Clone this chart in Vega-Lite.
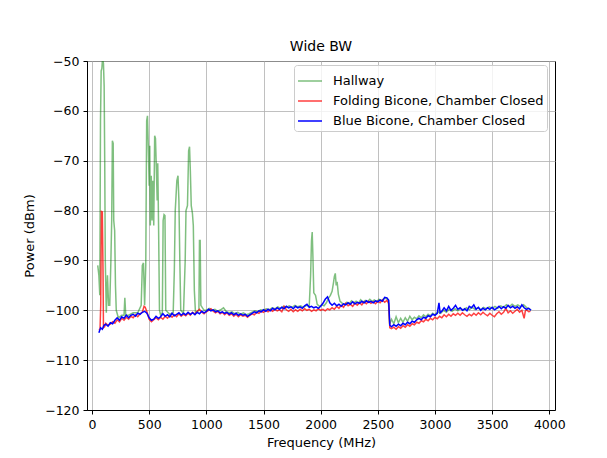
{
  "$schema": "https://vega.github.io/schema/vega-lite/v6.json",
  "width": 468,
  "height": 349,
  "autosize": {"type": "none"},
  "padding": {"left": 87, "top": 61, "right": 52, "bottom": 48},
  "background": "white",
  "title": {"text": "Wide BW", "fontSize": 14, "font": "DejaVu Sans", "fontWeight": "normal", "color": "black", "offset": 1, "anchor": "middle"},
  "data": {"values": [
    {"series":"Hallway","freq":50,"dbm":-91},{"series":"Hallway","freq":60,"dbm":-93},{"series":"Hallway","freq":68,"dbm":-97},{"series":"Hallway","freq":74,"dbm":-62},{"series":"Hallway","freq":80,"dbm":-52},{"series":"Hallway","freq":86,"dbm":-51.5},{"series":"Hallway","freq":92,"dbm":-49.5},{"series":"Hallway","freq":100,"dbm":-50.5},{"series":"Hallway","freq":106,"dbm":-55},{"series":"Hallway","freq":111,"dbm":-70},{"series":"Hallway","freq":116,"dbm":-90},{"series":"Hallway","freq":125,"dbm":-100.5},{"series":"Hallway","freq":135,"dbm":-93},{"series":"Hallway","freq":145,"dbm":-99},{"series":"Hallway","freq":155,"dbm":-99},{"series":"Hallway","freq":165,"dbm":-90},{"series":"Hallway","freq":172,"dbm":-82},{"series":"Hallway","freq":178,"dbm":-66},{"series":"Hallway","freq":185,"dbm":-66.5},{"series":"Hallway","freq":190,"dbm":-82},{"series":"Hallway","freq":198,"dbm":-84},{"series":"Hallway","freq":205,"dbm":-95},{"series":"Hallway","freq":212,"dbm":-100},{"series":"Hallway","freq":230,"dbm":-101.5},{"series":"Hallway","freq":260,"dbm":-101},{"series":"Hallway","freq":280,"dbm":-101},{"series":"Hallway","freq":287,"dbm":-97.5},{"series":"Hallway","freq":295,"dbm":-101},{"series":"Hallway","freq":320,"dbm":-101},{"series":"Hallway","freq":360,"dbm":-100.5},{"series":"Hallway","freq":400,"dbm":-100.5},{"series":"Hallway","freq":430,"dbm":-99},{"series":"Hallway","freq":440,"dbm":-91},{"series":"Hallway","freq":450,"dbm":-90.5},{"series":"Hallway","freq":460,"dbm":-99},{"series":"Hallway","freq":470,"dbm":-91},{"series":"Hallway","freq":478,"dbm":-62},{"series":"Hallway","freq":485,"dbm":-61},{"series":"Hallway","freq":492,"dbm":-67},{"series":"Hallway","freq":500,"dbm":-75},{"series":"Hallway","freq":505,"dbm":-67},{"series":"Hallway","freq":510,"dbm":-83},{"series":"Hallway","freq":518,"dbm":-73},{"series":"Hallway","freq":525,"dbm":-82},{"series":"Hallway","freq":532,"dbm":-74},{"series":"Hallway","freq":540,"dbm":-83},{"series":"Hallway","freq":548,"dbm":-65},{"series":"Hallway","freq":555,"dbm":-65.5},{"series":"Hallway","freq":562,"dbm":-71},{"series":"Hallway","freq":570,"dbm":-78},{"series":"Hallway","freq":575,"dbm":-70.5},{"series":"Hallway","freq":582,"dbm":-83},{"series":"Hallway","freq":590,"dbm":-100},{"series":"Hallway","freq":600,"dbm":-101},{"series":"Hallway","freq":615,"dbm":-100.5},{"series":"Hallway","freq":622,"dbm":-82},{"series":"Hallway","freq":630,"dbm":-80.8},{"series":"Hallway","freq":638,"dbm":-81},{"series":"Hallway","freq":645,"dbm":-100},{"series":"Hallway","freq":680,"dbm":-100.8},{"series":"Hallway","freq":710,"dbm":-100.5},{"series":"Hallway","freq":720,"dbm":-92},{"series":"Hallway","freq":728,"dbm":-80},{"series":"Hallway","freq":735,"dbm":-77},{"series":"Hallway","freq":742,"dbm":-74},{"series":"Hallway","freq":752,"dbm":-73},{"series":"Hallway","freq":760,"dbm":-78},{"series":"Hallway","freq":768,"dbm":-90},{"series":"Hallway","freq":776,"dbm":-100},{"series":"Hallway","freq":800,"dbm":-100.6},{"series":"Hallway","freq":815,"dbm":-90},{"series":"Hallway","freq":822,"dbm":-80},{"series":"Hallway","freq":835,"dbm":-79},{"series":"Hallway","freq":845,"dbm":-68},{"series":"Hallway","freq":853,"dbm":-67.2},{"series":"Hallway","freq":860,"dbm":-72},{"series":"Hallway","freq":868,"dbm":-79},{"series":"Hallway","freq":878,"dbm":-80.5},{"series":"Hallway","freq":886,"dbm":-83},{"series":"Hallway","freq":895,"dbm":-96},{"series":"Hallway","freq":905,"dbm":-100.5},{"series":"Hallway","freq":935,"dbm":-100},{"series":"Hallway","freq":940,"dbm":-86},{"series":"Hallway","freq":946,"dbm":-86},{"series":"Hallway","freq":952,"dbm":-99},{"series":"Hallway","freq":980,"dbm":-100},
    {"series":"Hallway","freq":1000,"dbm":-100},{"series":"Hallway","freq":1025,"dbm":-99.6},{"series":"Hallway","freq":1050,"dbm":-100},{"series":"Hallway","freq":1075,"dbm":-99.8},{"series":"Hallway","freq":1100,"dbm":-100.2},{"series":"Hallway","freq":1125,"dbm":-99.9},{"series":"Hallway","freq":1150,"dbm":-99.5},{"series":"Hallway","freq":1175,"dbm":-100.3},{"series":"Hallway","freq":1200,"dbm":-100.5},{"series":"Hallway","freq":1225,"dbm":-100.3},{"series":"Hallway","freq":1250,"dbm":-100.7},{"series":"Hallway","freq":1275,"dbm":-100.4},{"series":"Hallway","freq":1300,"dbm":-100.8},{"series":"Hallway","freq":1325,"dbm":-100.5},{"series":"Hallway","freq":1350,"dbm":-100.9},{"series":"Hallway","freq":1375,"dbm":-100.7},{"series":"Hallway","freq":1400,"dbm":-100.4},{"series":"Hallway","freq":1425,"dbm":-100.1},{"series":"Hallway","freq":1450,"dbm":-100.3},{"series":"Hallway","freq":1475,"dbm":-99.9},{"series":"Hallway","freq":1500,"dbm":-100},{"series":"Hallway","freq":1525,"dbm":-99.7},{"series":"Hallway","freq":1550,"dbm":-99.9},{"series":"Hallway","freq":1575,"dbm":-99.5},{"series":"Hallway","freq":1600,"dbm":-99.7},{"series":"Hallway","freq":1625,"dbm":-99.3},{"series":"Hallway","freq":1650,"dbm":-99.6},{"series":"Hallway","freq":1675,"dbm":-99.2},{"series":"Hallway","freq":1700,"dbm":-99.4},{"series":"Hallway","freq":1725,"dbm":-99.1},{"series":"Hallway","freq":1750,"dbm":-99.4},{"series":"Hallway","freq":1775,"dbm":-99},{"series":"Hallway","freq":1800,"dbm":-99.3},{"series":"Hallway","freq":1825,"dbm":-99.1},{"series":"Hallway","freq":1850,"dbm":-99.4},{"series":"Hallway","freq":1875,"dbm":-99},{"series":"Hallway","freq":1900,"dbm":-99.2},{"series":"Hallway","freq":1912,"dbm":-93},{"series":"Hallway","freq":1920,"dbm":-86},{"series":"Hallway","freq":1926,"dbm":-84.3},{"series":"Hallway","freq":1932,"dbm":-89},{"series":"Hallway","freq":1940,"dbm":-96.5},{"series":"Hallway","freq":1955,"dbm":-97},{"series":"Hallway","freq":1970,"dbm":-98.8},{"series":"Hallway","freq":1990,"dbm":-99.2},{"series":"Hallway","freq":2010,"dbm":-98.9},{"series":"Hallway","freq":2030,"dbm":-99.1},{"series":"Hallway","freq":2050,"dbm":-98.5},{"series":"Hallway","freq":2070,"dbm":-97.5},{"series":"Hallway","freq":2085,"dbm":-97},{"series":"Hallway","freq":2100,"dbm":-96.2},{"series":"Hallway","freq":2112,"dbm":-94.5},{"series":"Hallway","freq":2120,"dbm":-93.2},{"series":"Hallway","freq":2128,"dbm":-92.6},{"series":"Hallway","freq":2136,"dbm":-95},{"series":"Hallway","freq":2144,"dbm":-94.3},{"series":"Hallway","freq":2155,"dbm":-96.8},{"series":"Hallway","freq":2170,"dbm":-98.2},{"series":"Hallway","freq":2190,"dbm":-98.6},{"series":"Hallway","freq":2210,"dbm":-98.9},{"series":"Hallway","freq":2230,"dbm":-98.4},{"series":"Hallway","freq":2250,"dbm":-98.7},{"series":"Hallway","freq":2270,"dbm":-98.1},{"series":"Hallway","freq":2290,"dbm":-98.5},{"series":"Hallway","freq":2310,"dbm":-98.2},{"series":"Hallway","freq":2330,"dbm":-98.6},{"series":"Hallway","freq":2350,"dbm":-97.9},{"series":"Hallway","freq":2370,"dbm":-98.4},{"series":"Hallway","freq":2390,"dbm":-98},{"series":"Hallway","freq":2410,"dbm":-98.3},{"series":"Hallway","freq":2430,"dbm":-97.8},{"series":"Hallway","freq":2450,"dbm":-98.2},{"series":"Hallway","freq":2470,"dbm":-97.9},{"series":"Hallway","freq":2490,"dbm":-98.3},{"series":"Hallway","freq":2510,"dbm":-97.8},{"series":"Hallway","freq":2530,"dbm":-98.1},{"series":"Hallway","freq":2550,"dbm":-97.7},{"series":"Hallway","freq":2570,"dbm":-97.6},{"series":"Hallway","freq":2592,"dbm":-97.9},{"series":"Hallway","freq":2603,"dbm":-102.8},{"series":"Hallway","freq":2620,"dbm":-101.8},{"series":"Hallway","freq":2640,"dbm":-102.7},{"series":"Hallway","freq":2660,"dbm":-101.3},{"series":"Hallway","freq":2680,"dbm":-102.5},{"series":"Hallway","freq":2700,"dbm":-101.6},{"series":"Hallway","freq":2720,"dbm":-102.4},{"series":"Hallway","freq":2740,"dbm":-101.5},{"series":"Hallway","freq":2760,"dbm":-102.2},{"series":"Hallway","freq":2780,"dbm":-101.2},{"series":"Hallway","freq":2800,"dbm":-101.9},{"series":"Hallway","freq":2820,"dbm":-101.4},{"series":"Hallway","freq":2840,"dbm":-101.7},{"series":"Hallway","freq":2860,"dbm":-101.1},{"series":"Hallway","freq":2880,"dbm":-101.5},{"series":"Hallway","freq":2900,"dbm":-100.9},{"series":"Hallway","freq":2920,"dbm":-101.3},{"series":"Hallway","freq":2940,"dbm":-100.8},{"series":"Hallway","freq":2960,"dbm":-101.1},{"series":"Hallway","freq":2980,"dbm":-100.6},{"series":"Hallway","freq":3000,"dbm":-100.9},{"series":"Hallway","freq":3025,"dbm":-100.3},{"series":"Hallway","freq":3050,"dbm":-100.6},{"series":"Hallway","freq":3075,"dbm":-100},{"series":"Hallway","freq":3100,"dbm":-100.4},{"series":"Hallway","freq":3125,"dbm":-99.8},{"series":"Hallway","freq":3150,"dbm":-100.2},{"series":"Hallway","freq":3175,"dbm":-99.7},{"series":"Hallway","freq":3200,"dbm":-100.1},{"series":"Hallway","freq":3225,"dbm":-99.6},{"series":"Hallway","freq":3250,"dbm":-100},{"series":"Hallway","freq":3275,"dbm":-99.5},{"series":"Hallway","freq":3300,"dbm":-99.9},{"series":"Hallway","freq":3325,"dbm":-99.4},{"series":"Hallway","freq":3350,"dbm":-99.8},{"series":"Hallway","freq":3375,"dbm":-99.5},{"series":"Hallway","freq":3400,"dbm":-99.9},{"series":"Hallway","freq":3425,"dbm":-99.4},{"series":"Hallway","freq":3450,"dbm":-99.7},{"series":"Hallway","freq":3475,"dbm":-99.3},{"series":"Hallway","freq":3500,"dbm":-99.6},{"series":"Hallway","freq":3525,"dbm":-99.2},{"series":"Hallway","freq":3550,"dbm":-99.6},{"series":"Hallway","freq":3575,"dbm":-99.1},{"series":"Hallway","freq":3600,"dbm":-99.4},{"series":"Hallway","freq":3625,"dbm":-98.9},{"series":"Hallway","freq":3650,"dbm":-99.3},{"series":"Hallway","freq":3675,"dbm":-98.8},{"series":"Hallway","freq":3700,"dbm":-99.2},{"series":"Hallway","freq":3725,"dbm":-98.9},{"series":"Hallway","freq":3750,"dbm":-99.3},{"series":"Hallway","freq":3775,"dbm":-98.9},{"series":"Hallway","freq":3800,"dbm":-99.4},{"series":"Hallway","freq":3825,"dbm":-99.7},{"series":"Hallway","freq":3840,"dbm":-100},
    {"series":"Folding Bicone, Chamber Closed","freq":60,"dbm":-104},{"series":"Folding Bicone, Chamber Closed","freq":70,"dbm":-103.8},{"series":"Folding Bicone, Chamber Closed","freq":76,"dbm":-99},{"series":"Folding Bicone, Chamber Closed","freq":82,"dbm":-80.2},{"series":"Folding Bicone, Chamber Closed","freq":90,"dbm":-80.3},{"series":"Folding Bicone, Chamber Closed","freq":96,"dbm":-92},{"series":"Folding Bicone, Chamber Closed","freq":100,"dbm":-103.5},{"series":"Folding Bicone, Chamber Closed","freq":110,"dbm":-103.3},{"series":"Folding Bicone, Chamber Closed","freq":120,"dbm":-102.6},{"series":"Folding Bicone, Chamber Closed","freq":140,"dbm":-103},{"series":"Folding Bicone, Chamber Closed","freq":160,"dbm":-102.8},{"series":"Folding Bicone, Chamber Closed","freq":180,"dbm":-102.3},{"series":"Folding Bicone, Chamber Closed","freq":200,"dbm":-102.6},{"series":"Folding Bicone, Chamber Closed","freq":220,"dbm":-101.9},{"series":"Folding Bicone, Chamber Closed","freq":240,"dbm":-102.3},{"series":"Folding Bicone, Chamber Closed","freq":260,"dbm":-101.6},{"series":"Folding Bicone, Chamber Closed","freq":280,"dbm":-102},{"series":"Folding Bicone, Chamber Closed","freq":300,"dbm":-101.4},{"series":"Folding Bicone, Chamber Closed","freq":320,"dbm":-101.8},{"series":"Folding Bicone, Chamber Closed","freq":340,"dbm":-101.2},{"series":"Folding Bicone, Chamber Closed","freq":360,"dbm":-101.5},{"series":"Folding Bicone, Chamber Closed","freq":380,"dbm":-100.9},{"series":"Folding Bicone, Chamber Closed","freq":400,"dbm":-101.3},{"series":"Folding Bicone, Chamber Closed","freq":420,"dbm":-100.7},{"series":"Folding Bicone, Chamber Closed","freq":440,"dbm":-100.4},{"series":"Folding Bicone, Chamber Closed","freq":455,"dbm":-99.2},{"series":"Folding Bicone, Chamber Closed","freq":465,"dbm":-99.4},{"series":"Folding Bicone, Chamber Closed","freq":480,"dbm":-100.3},{"series":"Folding Bicone, Chamber Closed","freq":500,"dbm":-101.8},{"series":"Folding Bicone, Chamber Closed","freq":520,"dbm":-102.3},{"series":"Folding Bicone, Chamber Closed","freq":540,"dbm":-101.9},{"series":"Folding Bicone, Chamber Closed","freq":560,"dbm":-101.5},{"series":"Folding Bicone, Chamber Closed","freq":580,"dbm":-101.9},{"series":"Folding Bicone, Chamber Closed","freq":600,"dbm":-101.4},{"series":"Folding Bicone, Chamber Closed","freq":620,"dbm":-101.8},{"series":"Folding Bicone, Chamber Closed","freq":640,"dbm":-101.2},{"series":"Folding Bicone, Chamber Closed","freq":660,"dbm":-101.6},{"series":"Folding Bicone, Chamber Closed","freq":680,"dbm":-101},{"series":"Folding Bicone, Chamber Closed","freq":700,"dbm":-101.4},{"series":"Folding Bicone, Chamber Closed","freq":720,"dbm":-100.9},{"series":"Folding Bicone, Chamber Closed","freq":740,"dbm":-101.3},{"series":"Folding Bicone, Chamber Closed","freq":760,"dbm":-100.7},{"series":"Folding Bicone, Chamber Closed","freq":780,"dbm":-101.2},{"series":"Folding Bicone, Chamber Closed","freq":800,"dbm":-100.8},{"series":"Folding Bicone, Chamber Closed","freq":820,"dbm":-101.1},{"series":"Folding Bicone, Chamber Closed","freq":840,"dbm":-100.6},{"series":"Folding Bicone, Chamber Closed","freq":860,"dbm":-101},{"series":"Folding Bicone, Chamber Closed","freq":880,"dbm":-100.4},{"series":"Folding Bicone, Chamber Closed","freq":900,"dbm":-100.8},{"series":"Folding Bicone, Chamber Closed","freq":920,"dbm":-100.2},{"series":"Folding Bicone, Chamber Closed","freq":940,"dbm":-99.8},{"series":"Folding Bicone, Chamber Closed","freq":960,"dbm":-100.4},{"series":"Folding Bicone, Chamber Closed","freq":980,"dbm":-100.7},{"series":"Folding Bicone, Chamber Closed","freq":1000,"dbm":-100.3},{"series":"Folding Bicone, Chamber Closed","freq":1020,"dbm":-100},{"series":"Folding Bicone, Chamber Closed","freq":1040,"dbm":-99.7},{"series":"Folding Bicone, Chamber Closed","freq":1060,"dbm":-100.2},{"series":"Folding Bicone, Chamber Closed","freq":1080,"dbm":-100.5},{"series":"Folding Bicone, Chamber Closed","freq":1100,"dbm":-100.2},{"series":"Folding Bicone, Chamber Closed","freq":1120,"dbm":-100.7},{"series":"Folding Bicone, Chamber Closed","freq":1140,"dbm":-100.4},{"series":"Folding Bicone, Chamber Closed","freq":1160,"dbm":-100.9},{"series":"Folding Bicone, Chamber Closed","freq":1180,"dbm":-100.5},{"series":"Folding Bicone, Chamber Closed","freq":1200,"dbm":-101},{"series":"Folding Bicone, Chamber Closed","freq":1220,"dbm":-100.7},{"series":"Folding Bicone, Chamber Closed","freq":1240,"dbm":-101.2},{"series":"Folding Bicone, Chamber Closed","freq":1260,"dbm":-100.8},{"series":"Folding Bicone, Chamber Closed","freq":1280,"dbm":-101.3},{"series":"Folding Bicone, Chamber Closed","freq":1300,"dbm":-100.9},{"series":"Folding Bicone, Chamber Closed","freq":1320,"dbm":-101.2},{"series":"Folding Bicone, Chamber Closed","freq":1340,"dbm":-101},{"series":"Folding Bicone, Chamber Closed","freq":1360,"dbm":-101.4},{"series":"Folding Bicone, Chamber Closed","freq":1380,"dbm":-101},{"series":"Folding Bicone, Chamber Closed","freq":1400,"dbm":-100.7},{"series":"Folding Bicone, Chamber Closed","freq":1420,"dbm":-100.9},{"series":"Folding Bicone, Chamber Closed","freq":1440,"dbm":-100.4},{"series":"Folding Bicone, Chamber Closed","freq":1460,"dbm":-100.6},{"series":"Folding Bicone, Chamber Closed","freq":1480,"dbm":-100.2},{"series":"Folding Bicone, Chamber Closed","freq":1500,"dbm":-100.4},{"series":"Folding Bicone, Chamber Closed","freq":1520,"dbm":-100},{"series":"Folding Bicone, Chamber Closed","freq":1540,"dbm":-100.3},{"series":"Folding Bicone, Chamber Closed","freq":1560,"dbm":-99.9},{"series":"Folding Bicone, Chamber Closed","freq":1580,"dbm":-100.2},{"series":"Folding Bicone, Chamber Closed","freq":1600,"dbm":-99.8},{"series":"Folding Bicone, Chamber Closed","freq":1620,"dbm":-100.1},{"series":"Folding Bicone, Chamber Closed","freq":1640,"dbm":-99.9},{"series":"Folding Bicone, Chamber Closed","freq":1660,"dbm":-100.3},{"series":"Folding Bicone, Chamber Closed","freq":1680,"dbm":-99.2},{"series":"Folding Bicone, Chamber Closed","freq":1700,"dbm":-99.9},{"series":"Folding Bicone, Chamber Closed","freq":1720,"dbm":-100.2},{"series":"Folding Bicone, Chamber Closed","freq":1740,"dbm":-99.8},{"series":"Folding Bicone, Chamber Closed","freq":1760,"dbm":-100.3},{"series":"Folding Bicone, Chamber Closed","freq":1780,"dbm":-99.9},{"series":"Folding Bicone, Chamber Closed","freq":1800,"dbm":-100.2},{"series":"Folding Bicone, Chamber Closed","freq":1820,"dbm":-99.8},{"series":"Folding Bicone, Chamber Closed","freq":1840,"dbm":-100.1},{"series":"Folding Bicone, Chamber Closed","freq":1860,"dbm":-99.7},{"series":"Folding Bicone, Chamber Closed","freq":1880,"dbm":-100},{"series":"Folding Bicone, Chamber Closed","freq":1900,"dbm":-99.8},{"series":"Folding Bicone, Chamber Closed","freq":1920,"dbm":-100.2},{"series":"Folding Bicone, Chamber Closed","freq":1940,"dbm":-99.9},{"series":"Folding Bicone, Chamber Closed","freq":1960,"dbm":-100.1},{"series":"Folding Bicone, Chamber Closed","freq":1980,"dbm":-99.7},{"series":"Folding Bicone, Chamber Closed","freq":2000,"dbm":-100},{"series":"Folding Bicone, Chamber Closed","freq":2020,"dbm":-99.8},{"series":"Folding Bicone, Chamber Closed","freq":2040,"dbm":-100.1},{"series":"Folding Bicone, Chamber Closed","freq":2060,"dbm":-99.7},{"series":"Folding Bicone, Chamber Closed","freq":2080,"dbm":-99.9},{"series":"Folding Bicone, Chamber Closed","freq":2100,"dbm":-99.5},{"series":"Folding Bicone, Chamber Closed","freq":2120,"dbm":-99.8},{"series":"Folding Bicone, Chamber Closed","freq":2140,"dbm":-99.2},{"series":"Folding Bicone, Chamber Closed","freq":2160,"dbm":-99.6},{"series":"Folding Bicone, Chamber Closed","freq":2180,"dbm":-99},{"series":"Folding Bicone, Chamber Closed","freq":2200,"dbm":-99.4},{"series":"Folding Bicone, Chamber Closed","freq":2220,"dbm":-98.6},{"series":"Folding Bicone, Chamber Closed","freq":2240,"dbm":-99.1},{"series":"Folding Bicone, Chamber Closed","freq":2260,"dbm":-98.8},{"series":"Folding Bicone, Chamber Closed","freq":2280,"dbm":-99.2},{"series":"Folding Bicone, Chamber Closed","freq":2300,"dbm":-98.6},{"series":"Folding Bicone, Chamber Closed","freq":2320,"dbm":-99},{"series":"Folding Bicone, Chamber Closed","freq":2340,"dbm":-98.5},{"series":"Folding Bicone, Chamber Closed","freq":2360,"dbm":-98.9},{"series":"Folding Bicone, Chamber Closed","freq":2380,"dbm":-98.3},{"series":"Folding Bicone, Chamber Closed","freq":2400,"dbm":-98.7},{"series":"Folding Bicone, Chamber Closed","freq":2420,"dbm":-98.2},{"series":"Folding Bicone, Chamber Closed","freq":2440,"dbm":-98.6},{"series":"Folding Bicone, Chamber Closed","freq":2460,"dbm":-98.3},{"series":"Folding Bicone, Chamber Closed","freq":2480,"dbm":-98.7},{"series":"Folding Bicone, Chamber Closed","freq":2500,"dbm":-98.2},{"series":"Folding Bicone, Chamber Closed","freq":2520,"dbm":-98.5},{"series":"Folding Bicone, Chamber Closed","freq":2540,"dbm":-97.9},{"series":"Folding Bicone, Chamber Closed","freq":2560,"dbm":-98.4},{"series":"Folding Bicone, Chamber Closed","freq":2580,"dbm":-98},{"series":"Folding Bicone, Chamber Closed","freq":2595,"dbm":-98.6},{"series":"Folding Bicone, Chamber Closed","freq":2605,"dbm":-103.5},{"series":"Folding Bicone, Chamber Closed","freq":2620,"dbm":-103.7},{"series":"Folding Bicone, Chamber Closed","freq":2640,"dbm":-103.4},{"series":"Folding Bicone, Chamber Closed","freq":2660,"dbm":-103.8},{"series":"Folding Bicone, Chamber Closed","freq":2680,"dbm":-103.3},{"series":"Folding Bicone, Chamber Closed","freq":2700,"dbm":-103.6},{"series":"Folding Bicone, Chamber Closed","freq":2720,"dbm":-103.1},{"series":"Folding Bicone, Chamber Closed","freq":2740,"dbm":-103.4},{"series":"Folding Bicone, Chamber Closed","freq":2760,"dbm":-102.9},{"series":"Folding Bicone, Chamber Closed","freq":2780,"dbm":-103.2},{"series":"Folding Bicone, Chamber Closed","freq":2800,"dbm":-102.7},{"series":"Folding Bicone, Chamber Closed","freq":2820,"dbm":-102.9},{"series":"Folding Bicone, Chamber Closed","freq":2840,"dbm":-102.4},{"series":"Folding Bicone, Chamber Closed","freq":2860,"dbm":-102.6},{"series":"Folding Bicone, Chamber Closed","freq":2880,"dbm":-102.1},{"series":"Folding Bicone, Chamber Closed","freq":2900,"dbm":-102.3},{"series":"Folding Bicone, Chamber Closed","freq":2920,"dbm":-101.8},{"series":"Folding Bicone, Chamber Closed","freq":2940,"dbm":-102.1},{"series":"Folding Bicone, Chamber Closed","freq":2960,"dbm":-101.6},{"series":"Folding Bicone, Chamber Closed","freq":2980,"dbm":-101.9},{"series":"Folding Bicone, Chamber Closed","freq":3000,"dbm":-101.4},{"series":"Folding Bicone, Chamber Closed","freq":3020,"dbm":-101.7},{"series":"Folding Bicone, Chamber Closed","freq":3040,"dbm":-101.2},{"series":"Folding Bicone, Chamber Closed","freq":3060,"dbm":-101.5},{"series":"Folding Bicone, Chamber Closed","freq":3080,"dbm":-100.9},{"series":"Folding Bicone, Chamber Closed","freq":3100,"dbm":-101.3},{"series":"Folding Bicone, Chamber Closed","freq":3120,"dbm":-100.8},{"series":"Folding Bicone, Chamber Closed","freq":3140,"dbm":-101.2},{"series":"Folding Bicone, Chamber Closed","freq":3160,"dbm":-100.7},{"series":"Folding Bicone, Chamber Closed","freq":3180,"dbm":-101},{"series":"Folding Bicone, Chamber Closed","freq":3200,"dbm":-100.6},{"series":"Folding Bicone, Chamber Closed","freq":3220,"dbm":-101},{"series":"Folding Bicone, Chamber Closed","freq":3240,"dbm":-100.5},{"series":"Folding Bicone, Chamber Closed","freq":3260,"dbm":-100.9},{"series":"Folding Bicone, Chamber Closed","freq":3280,"dbm":-101.2},{"series":"Folding Bicone, Chamber Closed","freq":3300,"dbm":-100.8},{"series":"Folding Bicone, Chamber Closed","freq":3320,"dbm":-101.1},{"series":"Folding Bicone, Chamber Closed","freq":3340,"dbm":-100.6},{"series":"Folding Bicone, Chamber Closed","freq":3360,"dbm":-101},{"series":"Folding Bicone, Chamber Closed","freq":3380,"dbm":-100.5},{"series":"Folding Bicone, Chamber Closed","freq":3400,"dbm":-100.9},{"series":"Folding Bicone, Chamber Closed","freq":3420,"dbm":-100.4},{"series":"Folding Bicone, Chamber Closed","freq":3440,"dbm":-100.8},{"series":"Folding Bicone, Chamber Closed","freq":3460,"dbm":-101.1},{"series":"Folding Bicone, Chamber Closed","freq":3480,"dbm":-100.6},{"series":"Folding Bicone, Chamber Closed","freq":3500,"dbm":-101},{"series":"Folding Bicone, Chamber Closed","freq":3520,"dbm":-101.3},{"series":"Folding Bicone, Chamber Closed","freq":3540,"dbm":-100.7},{"series":"Folding Bicone, Chamber Closed","freq":3560,"dbm":-100.3},{"series":"Folding Bicone, Chamber Closed","freq":3580,"dbm":-100.8},{"series":"Folding Bicone, Chamber Closed","freq":3600,"dbm":-100.4},{"series":"Folding Bicone, Chamber Closed","freq":3620,"dbm":-99.6},{"series":"Folding Bicone, Chamber Closed","freq":3640,"dbm":-100.5},{"series":"Folding Bicone, Chamber Closed","freq":3660,"dbm":-100.1},{"series":"Folding Bicone, Chamber Closed","freq":3680,"dbm":-100.6},{"series":"Folding Bicone, Chamber Closed","freq":3700,"dbm":-100.2},{"series":"Folding Bicone, Chamber Closed","freq":3720,"dbm":-99.8},{"series":"Folding Bicone, Chamber Closed","freq":3740,"dbm":-100.4},{"series":"Folding Bicone, Chamber Closed","freq":3760,"dbm":-100},{"series":"Folding Bicone, Chamber Closed","freq":3780,"dbm":-101.6},{"series":"Folding Bicone, Chamber Closed","freq":3790,"dbm":-100.2},{"series":"Folding Bicone, Chamber Closed","freq":3800,"dbm":-99.9},{"series":"Folding Bicone, Chamber Closed","freq":3820,"dbm":-100.3},{"series":"Folding Bicone, Chamber Closed","freq":3835,"dbm":-100.2},
    {"series":"Blue Bicone, Chamber Closed","freq":60,"dbm":-104.5},{"series":"Blue Bicone, Chamber Closed","freq":75,"dbm":-103.5},{"series":"Blue Bicone, Chamber Closed","freq":90,"dbm":-103.8},{"series":"Blue Bicone, Chamber Closed","freq":105,"dbm":-103},{"series":"Blue Bicone, Chamber Closed","freq":120,"dbm":-102.8},{"series":"Blue Bicone, Chamber Closed","freq":140,"dbm":-103.2},{"series":"Blue Bicone, Chamber Closed","freq":160,"dbm":-102.5},{"series":"Blue Bicone, Chamber Closed","freq":180,"dbm":-102.7},{"series":"Blue Bicone, Chamber Closed","freq":200,"dbm":-102},{"series":"Blue Bicone, Chamber Closed","freq":220,"dbm":-101.5},{"series":"Blue Bicone, Chamber Closed","freq":240,"dbm":-102},{"series":"Blue Bicone, Chamber Closed","freq":260,"dbm":-101.3},{"series":"Blue Bicone, Chamber Closed","freq":280,"dbm":-101.6},{"series":"Blue Bicone, Chamber Closed","freq":300,"dbm":-101},{"series":"Blue Bicone, Chamber Closed","freq":320,"dbm":-101.5},{"series":"Blue Bicone, Chamber Closed","freq":340,"dbm":-101},{"series":"Blue Bicone, Chamber Closed","freq":360,"dbm":-100.8},{"series":"Blue Bicone, Chamber Closed","freq":380,"dbm":-101.2},{"series":"Blue Bicone, Chamber Closed","freq":400,"dbm":-100.6},{"series":"Blue Bicone, Chamber Closed","freq":420,"dbm":-100.8},{"series":"Blue Bicone, Chamber Closed","freq":440,"dbm":-100.4},{"series":"Blue Bicone, Chamber Closed","freq":460,"dbm":-100.2},{"series":"Blue Bicone, Chamber Closed","freq":480,"dbm":-100.6},{"series":"Blue Bicone, Chamber Closed","freq":500,"dbm":-101.5},{"series":"Blue Bicone, Chamber Closed","freq":520,"dbm":-102},{"series":"Blue Bicone, Chamber Closed","freq":540,"dbm":-101.8},{"series":"Blue Bicone, Chamber Closed","freq":560,"dbm":-101.2},{"series":"Blue Bicone, Chamber Closed","freq":580,"dbm":-101.6},{"series":"Blue Bicone, Chamber Closed","freq":600,"dbm":-101.3},{"series":"Blue Bicone, Chamber Closed","freq":620,"dbm":-100.7},{"series":"Blue Bicone, Chamber Closed","freq":640,"dbm":-101.2},{"series":"Blue Bicone, Chamber Closed","freq":660,"dbm":-100.9},{"series":"Blue Bicone, Chamber Closed","freq":680,"dbm":-101.3},{"series":"Blue Bicone, Chamber Closed","freq":700,"dbm":-100.6},{"series":"Blue Bicone, Chamber Closed","freq":720,"dbm":-101.1},{"series":"Blue Bicone, Chamber Closed","freq":740,"dbm":-100.8},{"series":"Blue Bicone, Chamber Closed","freq":760,"dbm":-100.5},{"series":"Blue Bicone, Chamber Closed","freq":780,"dbm":-101},{"series":"Blue Bicone, Chamber Closed","freq":800,"dbm":-100.6},{"series":"Blue Bicone, Chamber Closed","freq":820,"dbm":-100.9},{"series":"Blue Bicone, Chamber Closed","freq":840,"dbm":-100.4},{"series":"Blue Bicone, Chamber Closed","freq":860,"dbm":-100.8},{"series":"Blue Bicone, Chamber Closed","freq":880,"dbm":-100.5},{"series":"Blue Bicone, Chamber Closed","freq":900,"dbm":-100.9},{"series":"Blue Bicone, Chamber Closed","freq":920,"dbm":-100.4},{"series":"Blue Bicone, Chamber Closed","freq":940,"dbm":-100.7},{"series":"Blue Bicone, Chamber Closed","freq":960,"dbm":-100.2},{"series":"Blue Bicone, Chamber Closed","freq":980,"dbm":-100.5},{"series":"Blue Bicone, Chamber Closed","freq":1000,"dbm":-100.2},{"series":"Blue Bicone, Chamber Closed","freq":1020,"dbm":-99.8},{"series":"Blue Bicone, Chamber Closed","freq":1040,"dbm":-100.1},{"series":"Blue Bicone, Chamber Closed","freq":1060,"dbm":-99.9},{"series":"Blue Bicone, Chamber Closed","freq":1080,"dbm":-100.3},{"series":"Blue Bicone, Chamber Closed","freq":1100,"dbm":-100.1},{"series":"Blue Bicone, Chamber Closed","freq":1120,"dbm":-100.5},{"series":"Blue Bicone, Chamber Closed","freq":1140,"dbm":-100.3},{"series":"Blue Bicone, Chamber Closed","freq":1160,"dbm":-100.6},{"series":"Blue Bicone, Chamber Closed","freq":1180,"dbm":-100.4},{"series":"Blue Bicone, Chamber Closed","freq":1200,"dbm":-100.8},{"series":"Blue Bicone, Chamber Closed","freq":1220,"dbm":-100.5},{"series":"Blue Bicone, Chamber Closed","freq":1240,"dbm":-100.9},{"series":"Blue Bicone, Chamber Closed","freq":1260,"dbm":-100.6},{"series":"Blue Bicone, Chamber Closed","freq":1280,"dbm":-101},{"series":"Blue Bicone, Chamber Closed","freq":1300,"dbm":-100.7},{"series":"Blue Bicone, Chamber Closed","freq":1320,"dbm":-101},{"series":"Blue Bicone, Chamber Closed","freq":1340,"dbm":-100.8},{"series":"Blue Bicone, Chamber Closed","freq":1360,"dbm":-101.2},{"series":"Blue Bicone, Chamber Closed","freq":1380,"dbm":-100.9},{"series":"Blue Bicone, Chamber Closed","freq":1400,"dbm":-100.6},{"series":"Blue Bicone, Chamber Closed","freq":1420,"dbm":-100.3},{"series":"Blue Bicone, Chamber Closed","freq":1440,"dbm":-100.5},{"series":"Blue Bicone, Chamber Closed","freq":1460,"dbm":-100.1},{"series":"Blue Bicone, Chamber Closed","freq":1480,"dbm":-100.3},{"series":"Blue Bicone, Chamber Closed","freq":1500,"dbm":-99.9},{"series":"Blue Bicone, Chamber Closed","freq":1520,"dbm":-100.2},{"series":"Blue Bicone, Chamber Closed","freq":1540,"dbm":-99.8},{"series":"Blue Bicone, Chamber Closed","freq":1560,"dbm":-100.1},{"series":"Blue Bicone, Chamber Closed","freq":1580,"dbm":-99.6},{"series":"Blue Bicone, Chamber Closed","freq":1600,"dbm":-99.9},{"series":"Blue Bicone, Chamber Closed","freq":1620,"dbm":-99.5},{"series":"Blue Bicone, Chamber Closed","freq":1640,"dbm":-99.8},{"series":"Blue Bicone, Chamber Closed","freq":1660,"dbm":-99.4},{"series":"Blue Bicone, Chamber Closed","freq":1680,"dbm":-99.7},{"series":"Blue Bicone, Chamber Closed","freq":1700,"dbm":-99.2},{"series":"Blue Bicone, Chamber Closed","freq":1720,"dbm":-99.5},{"series":"Blue Bicone, Chamber Closed","freq":1740,"dbm":-99.3},{"series":"Blue Bicone, Chamber Closed","freq":1760,"dbm":-99.7},{"series":"Blue Bicone, Chamber Closed","freq":1780,"dbm":-99.2},{"series":"Blue Bicone, Chamber Closed","freq":1800,"dbm":-99.5},{"series":"Blue Bicone, Chamber Closed","freq":1820,"dbm":-99.3},{"series":"Blue Bicone, Chamber Closed","freq":1840,"dbm":-99.6},{"series":"Blue Bicone, Chamber Closed","freq":1860,"dbm":-99.1},{"series":"Blue Bicone, Chamber Closed","freq":1880,"dbm":-98.8},{"series":"Blue Bicone, Chamber Closed","freq":1900,"dbm":-99.4},{"series":"Blue Bicone, Chamber Closed","freq":1920,"dbm":-99.2},{"series":"Blue Bicone, Chamber Closed","freq":1940,"dbm":-99.5},{"series":"Blue Bicone, Chamber Closed","freq":1960,"dbm":-99.3},{"series":"Blue Bicone, Chamber Closed","freq":1980,"dbm":-99.6},{"series":"Blue Bicone, Chamber Closed","freq":2000,"dbm":-99.2},{"series":"Blue Bicone, Chamber Closed","freq":2020,"dbm":-98.6},{"series":"Blue Bicone, Chamber Closed","freq":2040,"dbm":-97.8},{"series":"Blue Bicone, Chamber Closed","freq":2060,"dbm":-97.3},{"series":"Blue Bicone, Chamber Closed","freq":2080,"dbm":-98.5},{"series":"Blue Bicone, Chamber Closed","freq":2100,"dbm":-99},{"series":"Blue Bicone, Chamber Closed","freq":2120,"dbm":-98.6},{"series":"Blue Bicone, Chamber Closed","freq":2140,"dbm":-99.1},{"series":"Blue Bicone, Chamber Closed","freq":2160,"dbm":-98.8},{"series":"Blue Bicone, Chamber Closed","freq":2180,"dbm":-99.2},{"series":"Blue Bicone, Chamber Closed","freq":2200,"dbm":-98.7},{"series":"Blue Bicone, Chamber Closed","freq":2220,"dbm":-98.9},{"series":"Blue Bicone, Chamber Closed","freq":2240,"dbm":-98.5},{"series":"Blue Bicone, Chamber Closed","freq":2260,"dbm":-98.8},{"series":"Blue Bicone, Chamber Closed","freq":2280,"dbm":-98.3},{"series":"Blue Bicone, Chamber Closed","freq":2300,"dbm":-98.7},{"series":"Blue Bicone, Chamber Closed","freq":2320,"dbm":-98.4},{"series":"Blue Bicone, Chamber Closed","freq":2340,"dbm":-98.6},{"series":"Blue Bicone, Chamber Closed","freq":2360,"dbm":-98.2},{"series":"Blue Bicone, Chamber Closed","freq":2380,"dbm":-98.5},{"series":"Blue Bicone, Chamber Closed","freq":2400,"dbm":-98.1},{"series":"Blue Bicone, Chamber Closed","freq":2420,"dbm":-98.4},{"series":"Blue Bicone, Chamber Closed","freq":2440,"dbm":-98.2},{"series":"Blue Bicone, Chamber Closed","freq":2460,"dbm":-98.5},{"series":"Blue Bicone, Chamber Closed","freq":2480,"dbm":-98.1},{"series":"Blue Bicone, Chamber Closed","freq":2500,"dbm":-98.3},{"series":"Blue Bicone, Chamber Closed","freq":2520,"dbm":-97.9},{"series":"Blue Bicone, Chamber Closed","freq":2540,"dbm":-98.2},{"series":"Blue Bicone, Chamber Closed","freq":2560,"dbm":-97.4},{"series":"Blue Bicone, Chamber Closed","freq":2580,"dbm":-97.5},{"series":"Blue Bicone, Chamber Closed","freq":2595,"dbm":-98},{"series":"Blue Bicone, Chamber Closed","freq":2605,"dbm":-103},{"series":"Blue Bicone, Chamber Closed","freq":2620,"dbm":-103.3},{"series":"Blue Bicone, Chamber Closed","freq":2640,"dbm":-102.9},{"series":"Blue Bicone, Chamber Closed","freq":2660,"dbm":-103.2},{"series":"Blue Bicone, Chamber Closed","freq":2680,"dbm":-102.8},{"series":"Blue Bicone, Chamber Closed","freq":2700,"dbm":-103.1},{"series":"Blue Bicone, Chamber Closed","freq":2720,"dbm":-102.6},{"series":"Blue Bicone, Chamber Closed","freq":2740,"dbm":-102.9},{"series":"Blue Bicone, Chamber Closed","freq":2760,"dbm":-102.4},{"series":"Blue Bicone, Chamber Closed","freq":2780,"dbm":-102.7},{"series":"Blue Bicone, Chamber Closed","freq":2800,"dbm":-102.2},{"series":"Blue Bicone, Chamber Closed","freq":2820,"dbm":-102.4},{"series":"Blue Bicone, Chamber Closed","freq":2840,"dbm":-101.9},{"series":"Blue Bicone, Chamber Closed","freq":2860,"dbm":-101.6},{"series":"Blue Bicone, Chamber Closed","freq":2880,"dbm":-101.9},{"series":"Blue Bicone, Chamber Closed","freq":2900,"dbm":-101.4},{"series":"Blue Bicone, Chamber Closed","freq":2920,"dbm":-101.6},{"series":"Blue Bicone, Chamber Closed","freq":2940,"dbm":-101.1},{"series":"Blue Bicone, Chamber Closed","freq":2960,"dbm":-101.3},{"series":"Blue Bicone, Chamber Closed","freq":2980,"dbm":-100.8},{"series":"Blue Bicone, Chamber Closed","freq":3000,"dbm":-101},{"series":"Blue Bicone, Chamber Closed","freq":3020,"dbm":-100.6},{"series":"Blue Bicone, Chamber Closed","freq":3035,"dbm":-98.5},{"series":"Blue Bicone, Chamber Closed","freq":3045,"dbm":-100.5},{"series":"Blue Bicone, Chamber Closed","freq":3060,"dbm":-100.2},{"series":"Blue Bicone, Chamber Closed","freq":3080,"dbm":-99.5},{"series":"Blue Bicone, Chamber Closed","freq":3100,"dbm":-100.1},{"series":"Blue Bicone, Chamber Closed","freq":3120,"dbm":-99.2},{"series":"Blue Bicone, Chamber Closed","freq":3140,"dbm":-100},{"series":"Blue Bicone, Chamber Closed","freq":3160,"dbm":-99.6},{"series":"Blue Bicone, Chamber Closed","freq":3180,"dbm":-99},{"series":"Blue Bicone, Chamber Closed","freq":3200,"dbm":-99.8},{"series":"Blue Bicone, Chamber Closed","freq":3220,"dbm":-99.5},{"series":"Blue Bicone, Chamber Closed","freq":3240,"dbm":-100},{"series":"Blue Bicone, Chamber Closed","freq":3260,"dbm":-99.7},{"series":"Blue Bicone, Chamber Closed","freq":3280,"dbm":-100.1},{"series":"Blue Bicone, Chamber Closed","freq":3300,"dbm":-99.2},{"series":"Blue Bicone, Chamber Closed","freq":3320,"dbm":-99.5},{"series":"Blue Bicone, Chamber Closed","freq":3340,"dbm":-98.9},{"series":"Blue Bicone, Chamber Closed","freq":3360,"dbm":-99.8},{"series":"Blue Bicone, Chamber Closed","freq":3380,"dbm":-99.4},{"series":"Blue Bicone, Chamber Closed","freq":3400,"dbm":-100},{"series":"Blue Bicone, Chamber Closed","freq":3420,"dbm":-99.6},{"series":"Blue Bicone, Chamber Closed","freq":3440,"dbm":-99.9},{"series":"Blue Bicone, Chamber Closed","freq":3460,"dbm":-99.5},{"series":"Blue Bicone, Chamber Closed","freq":3480,"dbm":-99.8},{"series":"Blue Bicone, Chamber Closed","freq":3500,"dbm":-99.4},{"series":"Blue Bicone, Chamber Closed","freq":3520,"dbm":-99.9},{"series":"Blue Bicone, Chamber Closed","freq":3540,"dbm":-99.6},{"series":"Blue Bicone, Chamber Closed","freq":3560,"dbm":-99.2},{"series":"Blue Bicone, Chamber Closed","freq":3580,"dbm":-99.7},{"series":"Blue Bicone, Chamber Closed","freq":3600,"dbm":-99.3},{"series":"Blue Bicone, Chamber Closed","freq":3620,"dbm":-99.6},{"series":"Blue Bicone, Chamber Closed","freq":3640,"dbm":-99},{"series":"Blue Bicone, Chamber Closed","freq":3660,"dbm":-99.5},{"series":"Blue Bicone, Chamber Closed","freq":3680,"dbm":-99.2},{"series":"Blue Bicone, Chamber Closed","freq":3700,"dbm":-99.6},{"series":"Blue Bicone, Chamber Closed","freq":3720,"dbm":-99.3},{"series":"Blue Bicone, Chamber Closed","freq":3740,"dbm":-99.7},{"series":"Blue Bicone, Chamber Closed","freq":3760,"dbm":-98.9},{"series":"Blue Bicone, Chamber Closed","freq":3780,"dbm":-99.5},{"series":"Blue Bicone, Chamber Closed","freq":3800,"dbm":-99.8},{"series":"Blue Bicone, Chamber Closed","freq":3820,"dbm":-99.6},{"series":"Blue Bicone, Chamber Closed","freq":3840,"dbm":-100}
  ]},
  "mark": {"type": "line", "strokeWidth": 1.5, "clip": true},
  "encoding": {
    "x": {"field": "freq", "type": "quantitative", "scale": {"domain": [-44, 4050], "nice": false, "zero": false},
      "axis": {"title": "Frequency (MHz)", "format": "d", "values": [0, 500, 1000, 1500, 2000, 2500, 3000, 3500, 4000], "titlePadding": 6}},
    "y": {"field": "dbm", "type": "quantitative", "scale": {"domain": [-120, -50], "nice": false, "zero": false},
      "axis": {"title": "Power (dBm)", "values": [-120, -110, -100, -90, -80, -70, -60, -50], "titlePadding": 8}},
    "color": {"field": "series", "type": "nominal",
      "scale": {"domain": ["Hallway", "Folding Bicone, Chamber Closed", "Blue Bicone, Chamber Closed"], "range": ["#008000", "#ff0000", "#0000ff"]},
      "legend": {"title": null}},
    "opacity": {"field": "series", "type": "nominal",
      "scale": {"domain": ["Hallway", "Folding Bicone, Chamber Closed", "Blue Bicone, Chamber Closed"], "range": [0.5, 1, 0.75]},
      "legend": {"title": null}}
  },
  "config": {
    "font": "DejaVu Sans",
    "view": {"stroke": "black", "strokeWidth": 1},
    "axis": {
      "labelFont": "DejaVu Sans", "titleFont": "DejaVu Sans", "labelFontSize": 12.5, "titleFontSize": 13,
      "titleFontWeight": "normal", "labelColor": "black", "titleColor": "black",
      "domainColor": "black", "tickColor": "black", "tickSize": 4, "labelPadding": 4,
      "gridColor": "#b0b0b0", "gridWidth": 0.8, "gridOpacity": 1, "labelFlush": false, "labelOverlap": false
    },
    "legend": {
      "orient": "none", "legendX": 207, "legendY": 4, "labelFont": "DejaVu Sans", "labelFontSize": 13, "labelColor": "black", "labelLimit": 0,
      "symbolType": "stroke", "symbolSize": 576, "symbolStrokeWidth": 1.5, "labelOffset": 10,
      "strokeColor": "#cccccc", "fillColor": "rgba(255,255,255,0.8)", "cornerRadius": 3, "padding": 3, "rowPadding": 0
    }
  }
}
